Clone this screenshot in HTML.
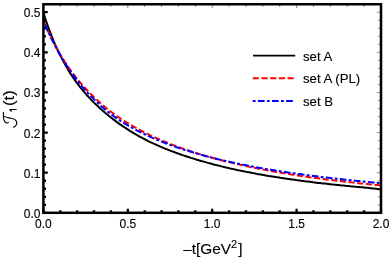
<!DOCTYPE html>
<html><head><meta charset="utf-8"><title>plot</title>
<style>
html,body{margin:0;padding:0;background:#fff;}
svg{display:block;will-change:transform;transform:translateZ(0);}
text{font-family:"Liberation Sans",sans-serif;fill:#000;stroke:#000;stroke-width:0.12px;}
</style></head>
<body>
<svg width="390" height="259" viewBox="0 0 390 259">
<rect x="0" y="0" width="390" height="259" fill="#fff"/>
<!-- curves -->
<g fill="none" stroke-linejoin="round">
<path d="M43.4,12.3 L45.1,18.0 L46.8,23.2 L48.5,27.9 L50.2,32.4 L51.9,36.7 L53.6,40.9 L55.3,44.8 L57.0,48.6 L58.7,52.2 L60.4,55.6 L62.1,58.9 L63.8,62.1 L65.5,65.2 L67.2,68.1 L68.8,70.9 L70.5,73.6 L72.2,76.2 L73.9,78.7 L75.6,81.1 L77.3,83.4 L79.0,85.6 L80.7,87.8 L82.4,89.9 L84.1,91.9 L85.8,93.9 L87.5,95.8 L89.2,97.6 L90.9,99.4 L92.6,101.2 L94.3,102.9 L96.0,104.5 L97.7,106.1 L99.4,107.7 L101.1,109.3 L102.8,110.8 L104.5,112.2 L106.2,113.7 L107.9,115.1 L109.6,116.5 L111.3,117.8 L113.0,119.1 L114.7,120.4 L116.3,121.6 L118.0,122.9 L119.7,124.1 L121.4,125.2 L123.1,126.4 L124.8,127.5 L126.5,128.6 L128.2,129.7 L129.9,130.8 L131.6,131.8 L133.3,132.8 L135.0,133.8 L136.7,134.8 L138.4,135.8 L140.1,136.8 L141.8,137.7 L143.5,138.6 L145.2,139.5 L146.9,140.4 L148.6,141.3 L150.3,142.1 L152.0,142.9 L153.7,143.6 L155.4,144.4 L157.1,145.2 L158.8,145.9 L160.5,146.6 L162.2,147.4 L163.9,148.1 L165.5,148.8 L167.2,149.4 L168.9,150.1 L170.6,150.8 L172.3,151.4 L174.0,152.0 L175.7,152.7 L177.4,153.3 L179.1,153.9 L180.8,154.5 L182.5,155.1 L184.2,155.6 L185.9,156.2 L187.6,156.8 L189.3,157.3 L191.0,157.9 L192.7,158.4 L194.4,158.9 L196.1,159.5 L197.8,160.0 L199.5,160.5 L201.2,161.0 L202.9,161.4 L204.6,161.9 L206.3,162.4 L208.0,162.9 L209.7,163.3 L211.4,163.8 L213.0,164.2 L214.7,164.7 L216.4,165.1 L218.1,165.5 L219.8,165.9 L221.5,166.4 L223.2,166.8 L224.9,167.2 L226.6,167.6 L228.3,168.0 L230.0,168.4 L231.7,168.7 L233.4,169.1 L235.1,169.5 L236.8,169.9 L238.5,170.2 L240.2,170.6 L241.9,170.9 L243.6,171.3 L245.3,171.6 L247.0,172.0 L248.7,172.3 L250.4,172.6 L252.1,172.9 L253.8,173.3 L255.5,173.6 L257.2,173.9 L258.9,174.2 L260.5,174.5 L262.2,174.8 L263.9,175.1 L265.6,175.4 L267.3,175.7 L269.0,176.0 L270.7,176.2 L272.4,176.5 L274.1,176.8 L275.8,177.1 L277.5,177.3 L279.2,177.6 L280.9,177.9 L282.6,178.1 L284.3,178.4 L286.0,178.6 L287.7,178.9 L289.4,179.1 L291.1,179.4 L292.8,179.6 L294.5,179.8 L296.2,180.1 L297.9,180.3 L299.6,180.5 L301.3,180.8 L303.0,181.0 L304.7,181.2 L306.4,181.4 L308.1,181.6 L309.7,181.8 L311.4,182.0 L313.1,182.3 L314.8,182.5 L316.5,182.7 L318.2,182.9 L319.9,183.1 L321.6,183.3 L323.3,183.4 L325.0,183.6 L326.7,183.8 L328.4,184.0 L330.1,184.2 L331.8,184.4 L333.5,184.6 L335.2,184.7 L336.9,184.9 L338.6,185.1 L340.3,185.3 L342.0,185.4 L343.7,185.6 L345.4,185.8 L347.1,185.9 L348.8,186.1 L350.5,186.2 L352.2,186.4 L353.9,186.6 L355.6,186.7 L357.2,186.9 L358.9,187.0 L360.6,187.2 L362.3,187.3 L364.0,187.5 L365.7,187.7 L367.4,187.8 L369.1,188.0 L370.8,188.2 L372.5,188.4 L374.2,188.6 L375.9,188.8 L377.6,189.0 L379.3,189.2 L381.0,189.4" stroke="#000" stroke-width="2"/>
<path d="M43.4,20.6 L45.1,24.7 L46.8,28.6 L48.5,32.3 L50.2,35.9 L51.9,39.3 L53.6,42.6 L55.3,45.8 L57.0,48.9 L58.7,51.9 L60.4,54.8 L62.1,57.6 L63.8,60.3 L65.5,62.9 L67.2,65.4 L68.8,67.9 L70.5,70.2 L72.2,72.5 L73.9,74.7 L75.6,76.9 L77.3,79.0 L79.0,81.1 L80.7,83.1 L82.4,85.0 L84.1,86.9 L85.8,88.8 L87.5,90.6 L89.2,92.4 L90.9,94.1 L92.6,95.8 L94.3,97.4 L96.0,99.0 L97.7,100.6 L99.4,102.1 L101.1,103.6 L102.8,105.1 L104.5,106.5 L106.2,108.0 L107.9,109.4 L109.6,110.7 L111.3,112.0 L113.0,113.3 L114.7,114.5 L116.3,115.7 L118.0,116.9 L119.7,118.0 L121.4,119.1 L123.1,120.2 L124.8,121.3 L126.5,122.4 L128.2,123.4 L129.9,124.4 L131.6,125.4 L133.3,126.4 L135.0,127.4 L136.7,128.3 L138.4,129.2 L140.1,130.1 L141.8,131.0 L143.5,131.9 L145.2,132.8 L146.9,133.6 L148.6,134.4 L150.3,135.3 L152.0,136.1 L153.7,136.8 L155.4,137.6 L157.1,138.4 L158.8,139.1 L160.5,139.9 L162.2,140.6 L163.9,141.3 L165.5,142.0 L167.2,142.7 L168.9,143.4 L170.6,144.1 L172.3,144.7 L174.0,145.4 L175.7,146.0 L177.4,146.7 L179.1,147.3 L180.8,147.9 L182.5,148.5 L184.2,149.1 L185.9,149.7 L187.6,150.3 L189.3,150.8 L191.0,151.4 L192.7,152.0 L194.4,152.5 L196.1,153.0 L197.8,153.6 L199.5,154.1 L201.2,154.6 L202.9,155.1 L204.6,155.6 L206.3,156.1 L208.0,156.6 L209.7,157.1 L211.4,157.6 L213.0,158.0 L214.7,158.5 L216.4,159.0 L218.1,159.4 L219.8,159.9 L221.5,160.3 L223.2,160.7 L224.9,161.2 L226.6,161.6 L228.3,162.0 L230.0,162.4 L231.7,162.8 L233.4,163.2 L235.1,163.6 L236.8,164.0 L238.5,164.4 L240.2,164.8 L241.9,165.2 L243.6,165.5 L245.3,165.9 L247.0,166.3 L248.7,166.6 L250.4,167.0 L252.1,167.3 L253.8,167.7 L255.5,168.0 L257.2,168.4 L258.9,168.7 L260.5,169.0 L262.2,169.4 L263.9,169.7 L265.6,170.0 L267.3,170.3 L269.0,170.6 L270.7,171.0 L272.4,171.3 L274.1,171.6 L275.8,171.9 L277.5,172.2 L279.2,172.4 L280.9,172.7 L282.6,173.0 L284.3,173.3 L286.0,173.6 L287.7,173.9 L289.4,174.1 L291.1,174.4 L292.8,174.7 L294.5,174.9 L296.2,175.2 L297.9,175.4 L299.6,175.7 L301.3,176.0 L303.0,176.2 L304.7,176.5 L306.4,176.7 L308.1,176.9 L309.7,177.2 L311.4,177.4 L313.1,177.7 L314.8,177.9 L316.5,178.1 L318.2,178.3 L319.9,178.6 L321.6,178.8 L323.3,179.0 L325.0,179.2 L326.7,179.5 L328.4,179.7 L330.1,179.9 L331.8,180.1 L333.5,180.3 L335.2,180.5 L336.9,180.7 L338.6,180.9 L340.3,181.1 L342.0,181.3 L343.7,181.5 L345.4,181.7 L347.1,181.9 L348.8,182.1 L350.5,182.3 L352.2,182.4 L353.9,182.6 L355.6,182.8 L357.2,183.0 L358.9,183.2 L360.6,183.4 L362.3,183.5 L364.0,183.7 L365.7,183.9 L367.4,184.0 L369.1,184.2 L370.8,184.4 L372.5,184.5 L374.2,184.7 L375.9,184.9 L377.6,185.0 L379.3,185.2 L381.0,185.4" stroke="#ff0000" stroke-width="2" stroke-dasharray="6.1 2.6"/>
<path d="M43.4,20.2 L45.1,24.3 L46.8,28.3 L48.5,32.2 L50.2,35.9 L51.9,39.4 L53.6,42.8 L55.3,46.1 L57.0,49.3 L58.7,52.4 L60.4,55.4 L62.1,58.3 L63.8,61.0 L65.5,63.7 L67.2,66.3 L68.8,68.8 L70.5,71.3 L72.2,73.7 L73.9,76.1 L75.6,78.3 L77.3,80.5 L79.0,82.7 L80.7,84.8 L82.4,86.8 L84.1,88.8 L85.8,90.7 L87.5,92.6 L89.2,94.4 L90.9,96.2 L92.6,97.9 L94.3,99.6 L96.0,101.2 L97.7,102.8 L99.4,104.4 L101.1,106.0 L102.8,107.5 L104.5,109.0 L106.2,110.4 L107.9,111.8 L109.6,113.2 L111.3,114.5 L113.0,115.7 L114.7,116.9 L116.3,118.1 L118.0,119.2 L119.7,120.3 L121.4,121.4 L123.1,122.5 L124.8,123.6 L126.5,124.6 L128.2,125.6 L129.9,126.6 L131.6,127.5 L133.3,128.5 L135.0,129.4 L136.7,130.3 L138.4,131.2 L140.1,132.0 L141.8,132.9 L143.5,133.7 L145.2,134.5 L146.9,135.3 L148.6,136.1 L150.3,136.9 L152.0,137.6 L153.7,138.4 L155.4,139.1 L157.1,139.8 L158.8,140.5 L160.5,141.2 L162.2,141.9 L163.9,142.5 L165.5,143.2 L167.2,143.8 L168.9,144.5 L170.6,145.1 L172.3,145.7 L174.0,146.3 L175.7,146.9 L177.4,147.5 L179.1,148.1 L180.8,148.6 L182.5,149.2 L184.2,149.7 L185.9,150.3 L187.6,150.8 L189.3,151.3 L191.0,151.8 L192.7,152.3 L194.4,152.8 L196.1,153.3 L197.8,153.8 L199.5,154.3 L201.2,154.8 L202.9,155.2 L204.6,155.7 L206.3,156.2 L208.0,156.6 L209.7,157.0 L211.4,157.5 L213.0,157.9 L214.7,158.3 L216.4,158.7 L218.1,159.2 L219.8,159.6 L221.5,160.0 L223.2,160.4 L224.9,160.8 L226.6,161.1 L228.3,161.5 L230.0,161.9 L231.7,162.3 L233.4,162.6 L235.1,163.0 L236.8,163.4 L238.5,163.7 L240.2,164.1 L241.9,164.4 L243.6,164.8 L245.3,165.1 L247.0,165.4 L248.7,165.8 L250.4,166.1 L252.1,166.4 L253.8,166.7 L255.5,167.1 L257.2,167.4 L258.9,167.7 L260.5,168.0 L262.2,168.3 L263.9,168.6 L265.6,168.9 L267.3,169.2 L269.0,169.5 L270.7,169.7 L272.4,170.0 L274.1,170.3 L275.8,170.6 L277.5,170.8 L279.2,171.1 L280.9,171.4 L282.6,171.6 L284.3,171.9 L286.0,172.1 L287.7,172.4 L289.4,172.7 L291.1,172.9 L292.8,173.1 L294.5,173.4 L296.2,173.6 L297.9,173.9 L299.6,174.1 L301.3,174.3 L303.0,174.6 L304.7,174.8 L306.4,175.0 L308.1,175.2 L309.7,175.5 L311.4,175.7 L313.1,175.9 L314.8,176.1 L316.5,176.3 L318.2,176.5 L319.9,176.8 L321.6,177.0 L323.3,177.2 L325.0,177.4 L326.7,177.6 L328.4,177.8 L330.1,178.0 L331.8,178.2 L333.5,178.4 L335.2,178.6 L336.9,178.8 L338.6,178.9 L340.3,179.1 L342.0,179.3 L343.7,179.5 L345.4,179.7 L347.1,179.9 L348.8,180.1 L350.5,180.2 L352.2,180.4 L353.9,180.6 L355.6,180.8 L357.2,180.9 L358.9,181.1 L360.6,181.3 L362.3,181.5 L364.0,181.6 L365.7,181.8 L367.4,182.0 L369.1,182.1 L370.8,182.3 L372.5,182.5 L374.2,182.6 L375.9,182.8 L377.6,182.9 L379.3,183.1 L381.0,183.3" stroke="#0000ff" stroke-width="2" stroke-dasharray="2.8 2.3 6.7 2.3"/>
</g>
<!-- thin ticks top/right -->
<path d="M43.40,4.25 V8.05 M60.28,4.25 V7.05 M77.16,4.25 V7.05 M94.04,4.25 V7.05 M110.92,4.25 V7.05 M127.80,4.25 V8.05 M144.68,4.25 V7.05 M161.56,4.25 V7.05 M178.44,4.25 V7.05 M195.32,4.25 V7.05 M212.20,4.25 V8.05 M229.08,4.25 V7.05 M245.96,4.25 V7.05 M262.84,4.25 V7.05 M279.72,4.25 V7.05 M296.60,4.25 V8.05 M313.48,4.25 V7.05 M330.36,4.25 V7.05 M347.24,4.25 V7.05 M364.12,4.25 V7.05 M381.00,4.25 V8.05 M381.0,212.85 H376.90 M381.0,204.82 H377.90 M381.0,196.80 H377.90 M381.0,188.77 H377.90 M381.0,180.75 H377.90 M381.0,172.72 H376.90 M381.0,164.69 H377.90 M381.0,156.67 H377.90 M381.0,148.64 H377.90 M381.0,140.62 H377.90 M381.0,132.59 H376.90 M381.0,124.56 H377.90 M381.0,116.54 H377.90 M381.0,108.51 H377.90 M381.0,100.49 H377.90 M381.0,92.46 H376.90 M381.0,84.43 H377.90 M381.0,76.41 H377.90 M381.0,68.38 H377.90 M381.0,60.36 H377.90 M381.0,52.33 H376.90 M381.0,44.30 H377.90 M381.0,36.28 H377.90 M381.0,28.25 H377.90 M381.0,20.23 H377.90 M381.0,12.20 H376.90" stroke="#333" stroke-width="0.6" fill="none"/>
<!-- thick ticks left/bottom -->
<path d="M43.40,212.8 V208.80 M60.28,212.8 V210.30 M77.16,212.8 V210.30 M94.04,212.8 V210.30 M110.92,212.8 V210.30 M127.80,212.8 V208.80 M144.68,212.8 V210.30 M161.56,212.8 V210.30 M178.44,212.8 V210.30 M195.32,212.8 V210.30 M212.20,212.8 V208.80 M229.08,212.8 V210.30 M245.96,212.8 V210.30 M262.84,212.8 V210.30 M279.72,212.8 V210.30 M296.60,212.8 V208.80 M313.48,212.8 V210.30 M330.36,212.8 V210.30 M347.24,212.8 V210.30 M364.12,212.8 V210.30 M381.00,212.8 V208.80 M43.4,212.85 H47.80 M43.4,204.82 H46.00 M43.4,196.80 H46.00 M43.4,188.77 H46.00 M43.4,180.75 H46.00 M43.4,172.72 H47.80 M43.4,164.69 H46.00 M43.4,156.67 H46.00 M43.4,148.64 H46.00 M43.4,140.62 H46.00 M43.4,132.59 H47.80 M43.4,124.56 H46.00 M43.4,116.54 H46.00 M43.4,108.51 H46.00 M43.4,100.49 H46.00 M43.4,92.46 H47.80 M43.4,84.43 H46.00 M43.4,76.41 H46.00 M43.4,68.38 H46.00 M43.4,60.36 H46.00 M43.4,52.33 H47.80 M43.4,44.30 H46.00 M43.4,36.28 H46.00 M43.4,28.25 H46.00 M43.4,20.23 H46.00 M43.4,12.20 H47.80" stroke="#000" stroke-width="2.3" fill="none"/>
<!-- frame -->
<rect x="43.4" y="4.25" width="337.6" height="208.55" fill="none" stroke="#000" stroke-width="2.5"/>
<!-- tick labels -->
<g font-size="12px"><text transform="translate(43.4,228.3) scale(1,1.03)" text-anchor="middle">0.0</text><text transform="translate(127.8,228.3) scale(1,1.03)" text-anchor="middle">0.5</text><text transform="translate(212.2,228.3) scale(1,1.03)" text-anchor="middle">1.0</text><text transform="translate(296.6,228.3) scale(1,1.03)" text-anchor="middle">1.5</text><text transform="translate(381.0,228.3) scale(1,1.03)" text-anchor="middle">2.0</text><text transform="translate(40.5,217.8) scale(1,1.03)" text-anchor="end">0.0</text><text transform="translate(40.5,177.6) scale(1,1.03)" text-anchor="end">0.1</text><text transform="translate(40.5,137.5) scale(1,1.03)" text-anchor="end">0.2</text><text transform="translate(40.5,97.4) scale(1,1.03)" text-anchor="end">0.3</text><text transform="translate(40.5,57.2) scale(1,1.03)" text-anchor="end">0.4</text><text transform="translate(40.5,17.1) scale(1,1.03)" text-anchor="end">0.5</text></g>
<!-- x axis label -->
<text x="183.2" y="254.3" font-size="15.4px">&#8211;t[GeV<tspan font-size="11px" dy="-6">2</tspan><tspan dy="6" dx="1.0">]</tspan></text>
<!-- y axis label -->
<g fill="none" stroke="#000" stroke-width="1.1" stroke-linecap="round" stroke-linejoin="round">
<path d="M3.4,112.4 C3.4,115 3.2,118.3 4.0,120.3 C4.7,122.1 6.3,123.2 7.4,123.0 C8.0,122.9 8.3,122.6 8.4,122.2"/>
<path d="M4.0,116.4 C6,117.6 8.5,117.7 11,118.2 C14,118.8 16.5,120.0 16.8,122.4 C17.0,124.3 15.6,126.2 13.7,127.3"/>
</g>
<path d="M9.4,109.5 H16.7 M9.7,109.6 L11.7,111.5" fill="none" stroke="#000" stroke-width="1.1"/>
<text transform="translate(14,106.1) rotate(-90) scale(1.12,1)" font-size="15px">(t)</text>
<!-- legend -->
<g fill="none">
<path d="M253,55.7 H295.2" stroke="#000" stroke-width="1.8"/>
<path d="M252.8,78.3 H294.2" stroke="#ff0000" stroke-width="1.9" stroke-dasharray="6.1 2.6"/>
<path d="M252.8,101 H293" stroke="#0000ff" stroke-width="1.9" stroke-dasharray="2.8 2.3 6.7 2.3"/>
</g>
<g font-size="13.2px">
<text x="303" y="60.6">set A</text>
<text x="303" y="82.9">set A (PL)</text>
<text x="303" y="105.5">set B</text>
</g>
</svg>
</body></html>
